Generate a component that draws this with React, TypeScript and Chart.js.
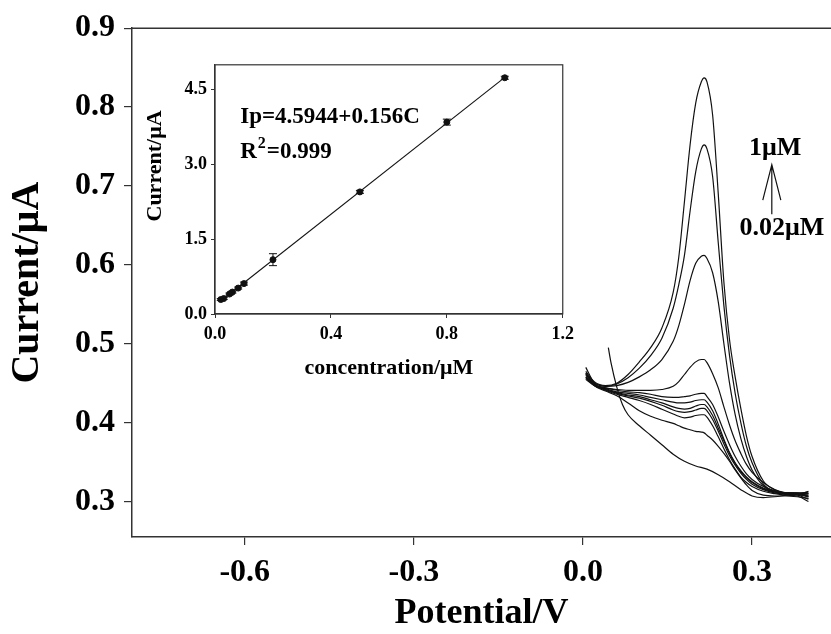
import React, { useEffect, useRef } from "react";
import { Chart, registerables } from "chart.js";

Chart.register(...registerables);

// ---------- main DPV curves ----------
const potentials = [
  0.005, 0.02, 0.04, 0.06, 0.08, 0.1, 0.12, 0.14, 0.16, 0.17, 0.18, 0.19, 0.2, 0.21, 0.215,
  0.22, 0.23, 0.24, 0.25, 0.26, 0.27, 0.28, 0.29, 0.3, 0.32, 0.34, 0.36, 0.38, 0.4,
];
const curve1uM = [0.465, 0.452, 0.447, 0.45, 0.461, 0.477, 0.495, 0.52, 0.565, 0.61, 0.68, 0.752, 0.805, 0.832, 0.837, 0.832, 0.79, 0.69, 0.578, 0.505, 0.458, 0.418, 0.383, 0.357, 0.326, 0.315, 0.311, 0.311, 0.31];
const curve08uM = [0.463, 0.451, 0.446, 0.449, 0.457, 0.469, 0.485, 0.507, 0.545, 0.575, 0.612, 0.668, 0.718, 0.747, 0.752, 0.747, 0.712, 0.628, 0.548, 0.485, 0.437, 0.4, 0.37, 0.349, 0.322, 0.313, 0.31, 0.309, 0.307];
const curve05uM = [0.46, 0.45, 0.446, 0.447, 0.451, 0.458, 0.467, 0.48, 0.503, 0.523, 0.55, 0.58, 0.602, 0.611, 0.612, 0.608, 0.59, 0.553, 0.5, 0.45, 0.41, 0.38, 0.357, 0.34, 0.32, 0.312, 0.31, 0.309, 0.306];
const curve02uM = [0.457, 0.448, 0.444, 0.442, 0.441, 0.441, 0.441, 0.442, 0.446, 0.452, 0.461, 0.47, 0.477, 0.48, 0.48, 0.476, 0.462, 0.444, 0.42, 0.397, 0.377, 0.361, 0.347, 0.337, 0.324, 0.315, 0.311, 0.31, 0.308];
const curve01uM = [0.457, 0.448, 0.444, 0.441, 0.439, 0.438, 0.436, 0.433, 0.432, 0.432, 0.433, 0.434, 0.436, 0.437, 0.437, 0.433, 0.423, 0.407, 0.389, 0.372, 0.357, 0.345, 0.335, 0.328, 0.319, 0.314, 0.311, 0.311, 0.31];
const curve008uM = [0.455, 0.447, 0.443, 0.439, 0.437, 0.435, 0.432, 0.429, 0.426, 0.425, 0.425, 0.426, 0.428, 0.429, 0.429, 0.426, 0.415, 0.398, 0.379, 0.362, 0.349, 0.339, 0.331, 0.325, 0.317, 0.313, 0.311, 0.31, 0.306];
const curve006uM = [0.462, 0.448, 0.442, 0.438, 0.435, 0.433, 0.429, 0.425, 0.42, 0.418, 0.417, 0.418, 0.421, 0.423, 0.423, 0.42, 0.409, 0.393, 0.377, 0.361, 0.348, 0.338, 0.33, 0.324, 0.316, 0.312, 0.31, 0.309, 0.313];
const curve005uM = [0.458, 0.447, 0.442, 0.437, 0.434, 0.431, 0.427, 0.422, 0.416, 0.414, 0.413, 0.414, 0.416, 0.418, 0.418, 0.415, 0.404, 0.389, 0.373, 0.358, 0.346, 0.336, 0.328, 0.322, 0.315, 0.311, 0.309, 0.308, 0.303];
const curve003uM = [0.47, 0.45, 0.441, 0.436, 0.432, 0.428, 0.423, 0.417, 0.411, 0.408, 0.406, 0.407, 0.409, 0.41, 0.41, 0.407, 0.396, 0.382, 0.367, 0.353, 0.341, 0.331, 0.324, 0.319, 0.313, 0.31, 0.308, 0.307, 0.3];
const curve002uM = [0.462, 0.447, 0.44, 0.434, 0.425, 0.415, 0.408, 0.403, 0.399, 0.396, 0.393, 0.391, 0.389, 0.388, 0.387, 0.384, 0.378, 0.37, 0.361, 0.351, 0.34, 0.33, 0.321, 0.314, 0.308, 0.307, 0.307, 0.306, 0.304];

const blankPotentials = [0.045, 0.05, 0.06, 0.07, 0.08, 0.1, 0.12, 0.14, 0.16, 0.18, 0.2, 0.22, 0.24, 0.26, 0.28, 0.3, 0.32, 0.34, 0.36, 0.38, 0.4];
const blankCurve = [0.495, 0.475, 0.445, 0.423, 0.41, 0.396, 0.384, 0.372, 0.36, 0.351, 0.345, 0.341, 0.334, 0.325, 0.315, 0.307, 0.305, 0.306, 0.308, 0.31, 0.312];

const mainXTicks = [-0.6, -0.3, 0.0, 0.3];
const mainYTicks = [0.3, 0.4, 0.5, 0.6, 0.7, 0.8, 0.9];

// ---------- inset calibration ----------
const concentrations = [0.02, 0.03, 0.05, 0.06, 0.08, 0.1, 0.2, 0.5, 0.8, 1.0];
const peakCurrents = [0.29, 0.31, 0.4, 0.44, 0.52, 0.61, 1.09, 2.45, 3.85, 4.74];
const peakErrors = [0.02, 0.02, 0.02, 0.02, 0.02, 0.03, 0.12, 0.03, 0.06, 0.03];
const insetXTicks = [0, 0.4, 0.8, 1.2];
const insetYTicks = [0, 1.5, 3.0, 4.5];

const FONT = "'Liberation Serif', 'Times New Roman', serif";
const AXIS = "#333";

function fitLine(xs: number[], ys: number[]) {
  const n = xs.length;
  const mx = xs.reduce((a, b) => a + b, 0) / n;
  const my = ys.reduce((a, b) => a + b, 0) / n;
  let sxy = 0, sxx = 0;
  for (let i = 0; i < n; i++) {
    sxy += (xs[i] - mx) * (ys[i] - my);
    sxx += (xs[i] - mx) * (xs[i] - mx);
  }
  const b = sxy / sxx;
  const a = my - b * mx;
  const x0 = xs[0], x1 = xs[n - 1];
  return [{ x: x0, y: a + b * x0 }, { x: x1, y: a + b * x1 }];
}

const mainAnnot = {
  id: "mainAnnot",
  afterDraw(chart: any) {
    const { ctx, chartArea, scales } = chart;
    const xs = scales.x, ys = scales.y;
    ctx.save();
    ctx.strokeStyle = AXIS;
    ctx.lineWidth = 1.5;
    ctx.beginPath();
    ctx.moveTo(chartArea.left, chartArea.top);
    ctx.lineTo(chartArea.right, chartArea.top);
    ctx.stroke();

    ctx.fillStyle = "#000";
    ctx.font = `bold 26px ${FONT}`;
    ctx.textAlign = "center";
    ctx.textBaseline = "middle";
    ctx.fillText("1μM", xs.getPixelForValue(0.341), ys.getPixelForValue(0.748));
    ctx.fillText("0.02μM", xs.getPixelForValue(0.353), ys.getPixelForValue(0.646));

    const ax = xs.getPixelForValue(0.335);
    ctx.strokeStyle = "#111";
    ctx.lineWidth = 1.2;
    ctx.beginPath();
    ctx.moveTo(ax, ys.getPixelForValue(0.664));
    ctx.lineTo(ax, ys.getPixelForValue(0.727));
    ctx.moveTo(xs.getPixelForValue(0.319), ys.getPixelForValue(0.682));
    ctx.lineTo(ax, ys.getPixelForValue(0.727));
    ctx.lineTo(xs.getPixelForValue(0.351), ys.getPixelForValue(0.682));
    ctx.stroke();
    ctx.restore();
  },
};

const insetAnnot = {
  id: "insetAnnot",
  afterDatasetsDraw(chart: any) {
    const { ctx, chartArea, scales } = chart;
    const xs = scales.x, ys = scales.y;
    ctx.save();
    ctx.strokeStyle = "#111";
    ctx.lineWidth = 1;
    for (let i = 0; i < concentrations.length; i++) {
      const px = xs.getPixelForValue(concentrations[i]);
      const top = ys.getPixelForValue(peakCurrents[i] + peakErrors[i]);
      const bot = ys.getPixelForValue(peakCurrents[i] - peakErrors[i]);
      ctx.beginPath();
      ctx.moveTo(px, top);
      ctx.lineTo(px, bot);
      ctx.moveTo(px - 4, top);
      ctx.lineTo(px + 4, top);
      ctx.moveTo(px - 4, bot);
      ctx.lineTo(px + 4, bot);
      ctx.stroke();
    }
    ctx.strokeStyle = AXIS;
    ctx.lineWidth = 1.2;
    ctx.strokeRect(chartArea.left, chartArea.top, chartArea.right - chartArea.left, chartArea.bottom - chartArea.top);

    ctx.fillStyle = "#000";
    ctx.textAlign = "left";
    ctx.textBaseline = "middle";
    const tx = xs.getPixelForValue(0.087);
    ctx.font = `bold 23px ${FONT}`;
    ctx.fillText("Ip=4.5944+0.156C", tx, ys.getPixelForValue(3.95));
    const ry = ys.getPixelForValue(3.25);
    ctx.fillText("R", tx, ry);
    const rw = ctx.measureText("R").width;
    ctx.font = `bold 16px ${FONT}`;
    ctx.fillText("2", tx + rw + 1, ry - 8);
    const sw = ctx.measureText("2").width;
    ctx.font = `bold 23px ${FONT}`;
    ctx.fillText("=0.999", tx + rw + sw + 2, ry);

    // inset y-axis title
    ctx.save();
    ctx.translate(25, ys.getPixelForValue(2.97));
    ctx.rotate(-Math.PI / 2);
    ctx.textAlign = "center";
    ctx.font = `bold 22px ${FONT}`;
    ctx.fillText("Current/μA", 0, 0);
    ctx.restore();
    ctx.restore();
  },
};

export default function App() {
  const mainRef = useRef<HTMLCanvasElement>(null);
  const insetRef = useRef<HTMLCanvasElement>(null);

  useEffect(() => {
    document.body.style.margin = "0";
    const curves = [curve1uM, curve08uM, curve05uM, curve02uM, curve01uM, curve008uM, curve006uM, curve005uM, curve003uM, curve002uM];
    const datasets: any[] = curves.map((arr) => ({
      data: potentials.map((p, i) => ({ x: p, y: arr[i] })),
      borderColor: "#111",
      borderWidth: 1.2,
      pointRadius: 0,
      cubicInterpolationMode: "monotone",
      fill: false,
    }));
    datasets.push({
      data: blankPotentials.map((p, i) => ({ x: p, y: blankCurve[i] })),
      borderColor: "#111",
      borderWidth: 1.2,
      pointRadius: 0,
      cubicInterpolationMode: "monotone",
      fill: false,
    });

    const tickFont = { family: FONT, size: 32, weight: "bold" as const };
    const titleFontX = { family: FONT, size: 36, weight: "bold" as const, lineHeight: 1 };
    const titleFontY = { family: FONT, size: 40, weight: "bold" as const, lineHeight: 1 };

    const main = new Chart(mainRef.current!, {
      type: "line",
      data: { datasets },
      options: {
        animation: false,
        responsive: false,
        maintainAspectRatio: false,
        layout: { padding: { top: 24, left: 0, right: 0, bottom: 0 } },
        plugins: { legend: { display: false }, tooltip: { enabled: false } },
        scales: {
          x: {
            type: "linear",
            min: -0.8,
            max: 0.44,
            afterBuildTicks: (a: any) => { a.ticks = mainXTicks.map((v) => ({ value: v })); },
            afterFit: (s: any) => { s.height = 97; },
            grid: { display: true, drawOnChartArea: false, drawTicks: true, tickLength: 8, color: AXIS, lineWidth: 1.2 },
            border: { display: true, color: AXIS, width: 1.5 },
            ticks: { font: tickFont, color: "#000", padding: 9, callback: (v: any) => Number(v).toFixed(1) },
            title: { display: true, text: "Potential/V", font: titleFontX, color: "#000", padding: { top: 0, bottom: 2 } },
          },
          y: {
            type: "linear",
            min: 0.255,
            max: 0.9,
            afterBuildTicks: (a: any) => { a.ticks = mainYTicks.map((v) => ({ value: v })); },
            afterFit: (s: any) => { s.width = 132; },
            grid: { display: true, drawOnChartArea: false, drawTicks: true, tickLength: 8, color: AXIS, lineWidth: 1.2 },
            border: { display: true, color: AXIS, width: 1.5 },
            ticks: { font: tickFont, color: "#000", padding: 9, callback: (v: any) => Number(v).toFixed(1) },
            title: { display: true, text: "Current/μA", font: titleFontY, color: "#000", padding: { top: 8, bottom: 0 } },
          },
        },
      },
      plugins: [mainAnnot],
    });

    const insetTick = { family: FONT, size: 18, weight: "bold" as const };
    const insetTitle = { family: FONT, size: 22, weight: "bold" as const, lineHeight: 1 };
    const inset = new Chart(insetRef.current!, {
      type: "scatter",
      data: {
        datasets: [
          {
            data: concentrations.map((c, i) => ({ x: c, y: peakCurrents[i] })),
            backgroundColor: "#111",
            borderColor: "#111",
            pointRadius: 3,
            showLine: false,
          },
          {
            data: fitLine(concentrations, peakCurrents),
            borderColor: "#111",
            borderWidth: 1.1,
            pointRadius: 0,
            showLine: true,
          },
        ],
      },
      options: {
        animation: false,
        responsive: false,
        maintainAspectRatio: false,
        layout: { padding: { top: 13, left: 0, right: 17, bottom: 0 } },
        plugins: { legend: { display: false }, tooltip: { enabled: false } },
        scales: {
          x: {
            type: "linear",
            min: 0,
            max: 1.2,
            afterBuildTicks: (a: any) => { a.ticks = insetXTicks.map((v) => ({ value: v })); },
            afterFit: (s: any) => { s.height = 76; },
            grid: { display: true, drawOnChartArea: false, drawTicks: true, tickLength: 4, color: AXIS },
            border: { display: true, color: AXIS, width: 1.2 },
            ticks: { font: insetTick, color: "#000", padding: 6, callback: (v: any) => Number(v).toFixed(1) },
            title: { display: true, text: "concentration/μM", font: insetTitle, color: "#000", padding: { top: 0, bottom: 11 } },
          },
          y: {
            type: "linear",
            min: 0,
            max: 5.0,
            afterBuildTicks: (a: any) => { a.ticks = insetYTicks.map((v) => ({ value: v })); },
            afterFit: (s: any) => { s.width = 85; },
            grid: { display: true, drawOnChartArea: false, drawTicks: true, tickLength: 4, color: AXIS },
            border: { display: true, color: AXIS, width: 1.2 },
            ticks: { font: insetTick, color: "#000", padding: 4, callback: (v: any) => Number(v).toFixed(1) },
            title: { display: false },
          },
        },
      },
      plugins: [insetAnnot],
    });

    return () => {
      main.destroy();
      inset.destroy();
    };
  }, []);

  return (
    <div style={{ position: "relative", width: 831, height: 634, background: "#fff" }}>
      <canvas ref={mainRef} width={831} height={634} style={{ position: "absolute", left: 0, top: 0, display: "block" }} />
      <canvas ref={insetRef} width={450} height={340} style={{ position: "absolute", left: 130, top: 50, display: "block" }} />
    </div>
  );
}
